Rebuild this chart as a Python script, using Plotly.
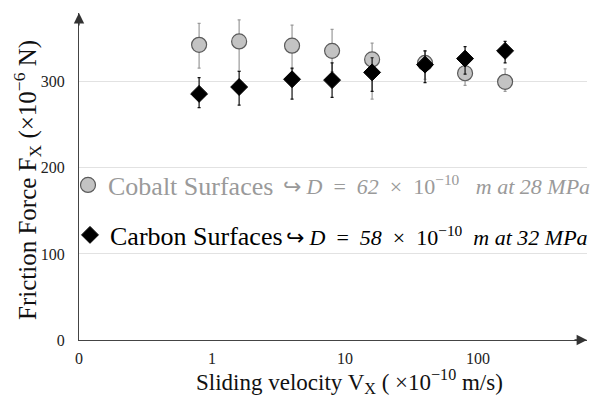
import plotly.graph_objects as go

# ---- data ----
velocity = [0.8, 1.6, 4, 8, 16, 40, 80, 160]

cobalt_force = [343, 347, 342, 336, 326, 322, 310, 300]
cobalt_err_plus = [25, 25, 24, 25, 19, 14, 15, 15]
cobalt_err_minus = [27, 34, 27, 24, 46, 19, 14, 11]

carbon_force = [286, 294, 303, 302, 311, 320, 327, 336]
carbon_err_plus = [19, 18, 13, 20, 17, 16, 14, 11]
carbon_err_minus = [16, 21, 23, 20, 22, 21, 18, 14]

x_tickvals = [0.1, 1, 10, 100]
x_ticktext = ["0", "1", "10", "100"]
y_tickvals = [0, 100, 200, 300]

series_names = ["Cobalt Surfaces", "Carbon Surfaces"]
NB = "\u00a0"
S2 = NB * 2
series_notes = [
    f"↪{NB}<i>D</i>{S2}={S2}<i>62</i>{S2}×{S2}10<sup>−10</sup>{S2}{NB}<i>m{NB}at{NB}28{NB}MPa</i>",
    f"↪{NB}<i>D</i>{S2}={S2}<i>58</i>{S2}×{S2}10<sup>−10</sup>{S2}<i>m{NB}at{NB}32{NB}MPa</i>",
]

SERIF = "Liberation Serif, Times New Roman, serif"
GRAY_TXT = "#9a9a9a"

L, R, T, B = 79, 587, 13, 340
PW, PH = R - L, B - T

fig = go.Figure()

fig.add_trace(go.Scatter(
    x=velocity, y=cobalt_force, mode="markers", name=series_names[0],
    marker=dict(symbol="circle", size=15, color="#c3c3c3",
                line=dict(color="#5a5a5a", width=1.2)),
    error_y=dict(type="data", array=cobalt_err_plus, arrayminus=cobalt_err_minus,
                 color="#9a9a9a", thickness=1.2, width=1.5),
    legend="legend",
))
fig.add_trace(go.Scatter(
    x=velocity, y=carbon_force, mode="markers", name=series_names[1],
    marker=dict(symbol="diamond", size=13, color="#000000",
                line=dict(color="#000000", width=1)),
    error_y=dict(type="data", array=carbon_err_plus, arrayminus=carbon_err_minus,
                 color="#111111", thickness=1.2, width=1.5),
    legend="legend2",
))

annotations = [
    # descriptors
    dict(text=series_notes[0], xref="paper", yref="paper", x=(281 - L) / PW,
         y=(B - 185) / PH, xanchor="left", yanchor="middle", showarrow=False,
         font=dict(family=SERIF, size=22, color=GRAY_TXT)),
    dict(text=series_notes[1], xref="paper", yref="paper", x=(284 - L) / PW,
         y=(B - 236) / PH, xanchor="left", yanchor="middle", showarrow=False,
         font=dict(family=SERIF, size=22, color="#000000")),
    # axis titles
    dict(text="Sliding velocity V<sub>X</sub> ( ×10<sup>−10</sup> m/s)",
         xref="paper", yref="paper", x=(349 - L) / PW, y=(B - 381) / PH,
         xanchor="center", yanchor="middle", showarrow=False,
         font=dict(family=SERIF, size=23, color="#111111")),
    dict(text="Friction Force F<sub>X</sub> (×10<sup>−6</sup> N)",
         xref="paper", yref="paper", x=(27 - L) / PW, y=(B - 180) / PH,
         xanchor="center", yanchor="middle", showarrow=False, textangle=-90,
         font=dict(family=SERIF, size=25, color="#111111")),
    # axis arrows
    dict(x=1, y=0, xref="paper", yref="paper", ax=-14, ay=0, axref="pixel", ayref="pixel",
         showarrow=True, arrowhead=2, arrowsize=1.6, arrowwidth=1.3, arrowcolor="#333333",
         text=""),
    dict(x=0, y=1, xref="paper", yref="paper", ax=0, ay=14, axref="pixel", ayref="pixel",
         showarrow=True, arrowhead=2, arrowsize=1.6, arrowwidth=1.3, arrowcolor="#333333",
         text=""),
]

fig.update_layout(
    width=593, height=396,
    margin=dict(l=L, r=593 - R, t=T, b=396 - B, autoexpand=False),
    paper_bgcolor="white", plot_bgcolor="white",
    font=dict(family=SERIF, color="#111111"),
    showlegend=True,
    legend=dict(x=(68 - L) / PW, y=(B - 185) / PH, xanchor="left", yanchor="middle",
                bgcolor="rgba(0,0,0,0)", font=dict(family=SERIF, size=26, color=GRAY_TXT),
                itemwidth=30),
    legend2=dict(x=(70 - L) / PW, y=(B - 235) / PH, xanchor="left", yanchor="middle",
                 bgcolor="rgba(0,0,0,0)", font=dict(family=SERIF, size=26, color="#000000"),
                 itemwidth=30),
    annotations=annotations,
)

fig.update_xaxes(
    type="log", range=[-1, 2.82], tickvals=x_tickvals, ticktext=x_ticktext,
    showgrid=False, zeroline=False, showline=True, linecolor="#444444", linewidth=1.3,
    ticks="", ticklabelstandoff=4, automargin=False,
    tickfont=dict(family=SERIF, size=16, color="#222222"),
)
fig.update_yaxes(
    range=[0, 380], tickvals=y_tickvals,
    showgrid=True, gridcolor="#e2e2e2", gridwidth=1, zeroline=False,
    showline=True, linecolor="#444444", linewidth=1.3,
    ticks="", ticklabelstandoff=10, automargin=False,
    tickfont=dict(family=SERIF, size=16, color="#222222"),
)

fig.write_html(
    "out.html",
    config={"displayModeBar": False},
    post_script="document.body.style.margin='0';document.body.style.overflow='hidden';",
)
